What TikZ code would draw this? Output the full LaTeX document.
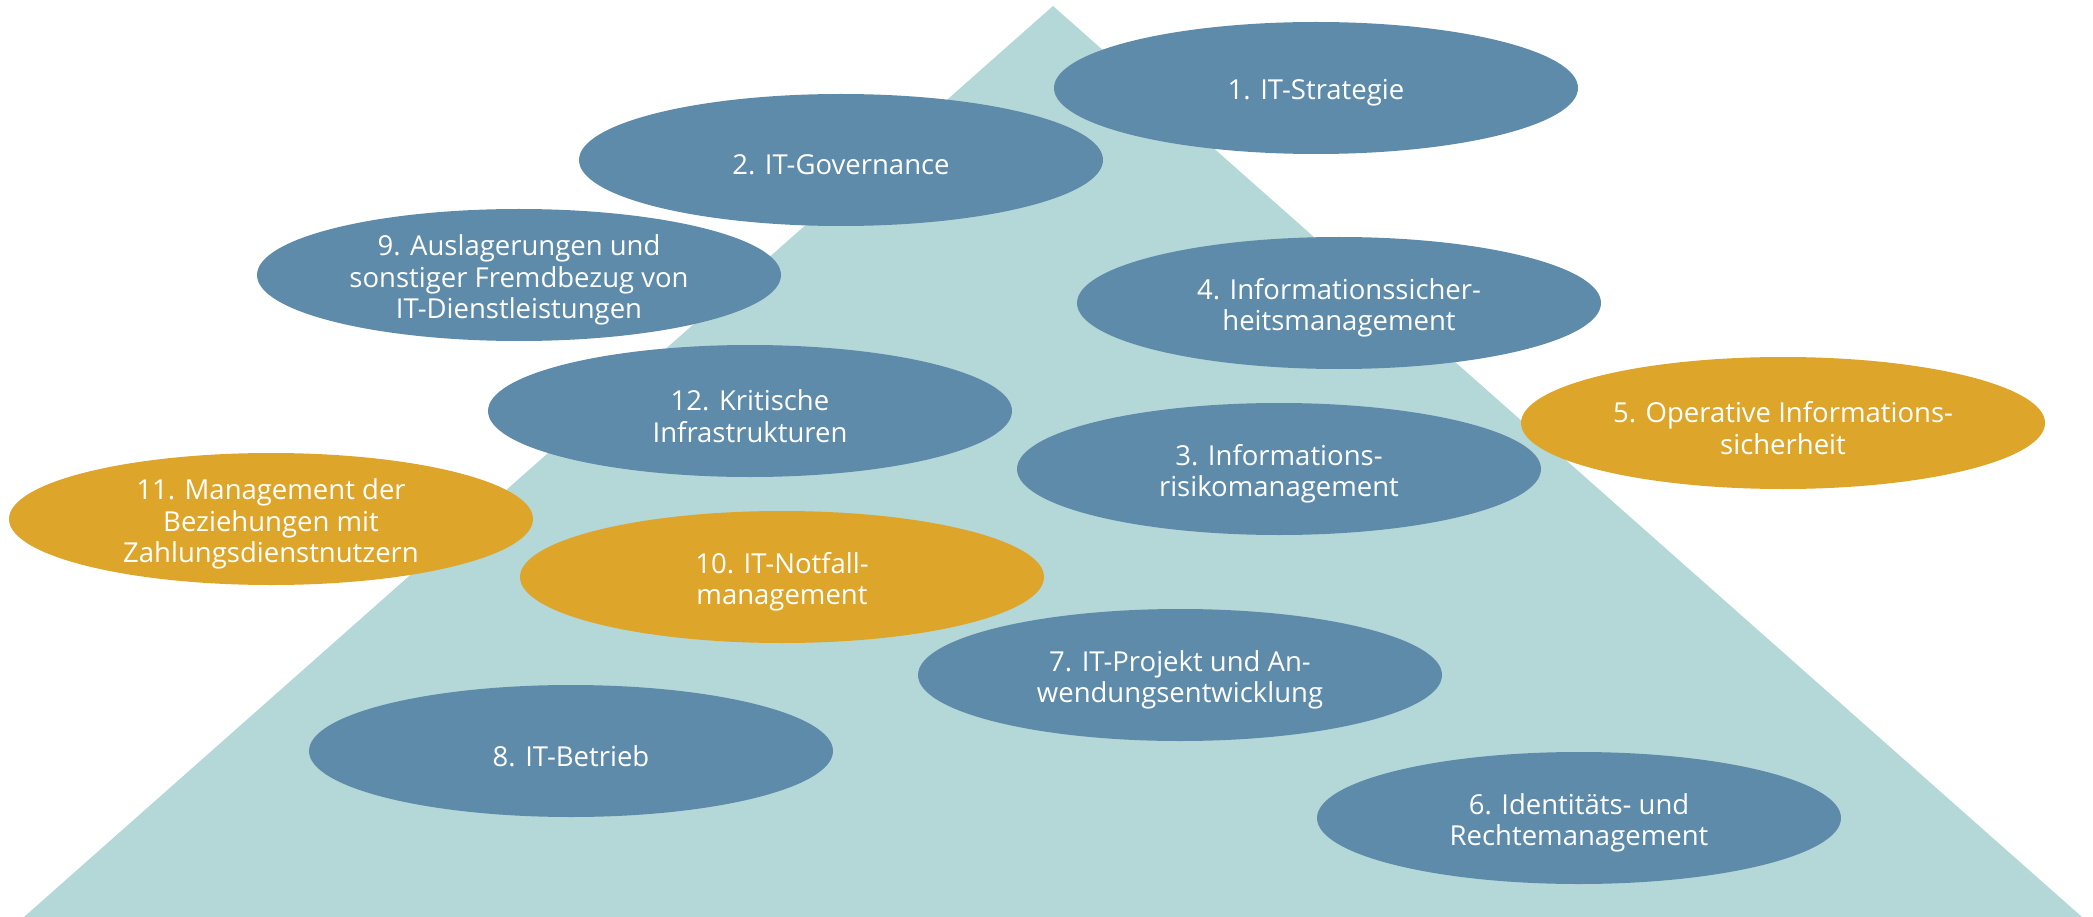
\documentclass[tikz,border=0pt]{standalone}
\usepackage{fontspec}
\setmainfont{Open Sans}
\usetikzlibrary{shapes.geometric}
\definecolor{tri}{HTML}{B4D7D8}
\definecolor{blu}{HTML}{5E8BAA}
\definecolor{gld}{HTML}{DDA52A}
\tikzset{
  ell/.style={ellipse, minimum width=524pt, minimum height=132pt, inner sep=0pt},
  bluell/.style={ell, fill=blu},
  gldell/.style={ell, fill=gld},
  lbl/.style={text=white, align=center, inner sep=0pt, font=\fontsize{27.5}{31.5}\selectfont},
}
\begin{document}
\begin{tikzpicture}[x=1pt,y=-1pt]
\useasboundingbox (0,0) rectangle (2093,917);
\coordinate (apex) at (1053,6);
\coordinate (bl) at (24,917);
\coordinate (br) at (2082,917);
\fill[tri] (apex) -- (br) -- (bl) -- cycle;
\node[bluell] (e1) at (1316,88) {};
\node[lbl] (t1) at ([yshift=-5pt]e1.center) {1. IT-Strategie};
\node[bluell] (e2) at (841,160) {};
\node[lbl] (t2) at ([yshift=-5pt]e2.center) {2. IT-Governance};
\node[bluell] (e9) at (519,275) {};
\node[lbl] (t9) at ([yshift=-5pt]e9.center) {9. Auslagerungen und\\sonstiger Fremdbezug von\\IT-Dienstleistungen};
\node[bluell] (e4) at (1339,303) {};
\node[lbl] (t4) at ([yshift=-5pt]e4.center) {4. Informationssicher-\\heitsmanagement};
\node[bluell] (e12) at (750,411) {};
\node[lbl] (t12) at ([yshift=-5pt]e12.center) {12. Kritische\\Infrastrukturen};
\node[gldell] (e5) at (1783,423) {};
\node[lbl] (t5) at ([yshift=-5pt]e5.center) {5. Operative Informations-\\sicherheit};
\node[bluell] (e3) at (1279,469) {};
\node[lbl] (t3) at ([yshift=-5pt]e3.center) {3. Informations-\\risikomanagement};
\node[gldell] (e11) at (271,519) {};
\node[lbl] (t11) at ([yshift=-5pt]e11.center) {11. Management der\\Beziehungen mit\\Zahlungsdienstnutzern};
\node[gldell] (e10) at (782,577) {};
\node[lbl] (t10) at ([yshift=-5pt]e10.center) {10. IT-Notfall-\\management};
\node[bluell] (e7) at (1180,675) {};
\node[lbl] (t7) at ([yshift=-5pt]e7.center) {7. IT-Projekt und An-\\wendungsentwicklung};
\node[bluell] (e8) at (571,751) {};
\node[lbl] (t8) at ([yshift=-5pt]e8.center) {8. IT-Betrieb};
\node[bluell] (e6) at (1579,818) {};
\node[lbl] (t6) at ([yshift=-5pt]e6.center) {6. Identitäts- und\\Rechtemanagement};
\end{tikzpicture}
\end{document}
